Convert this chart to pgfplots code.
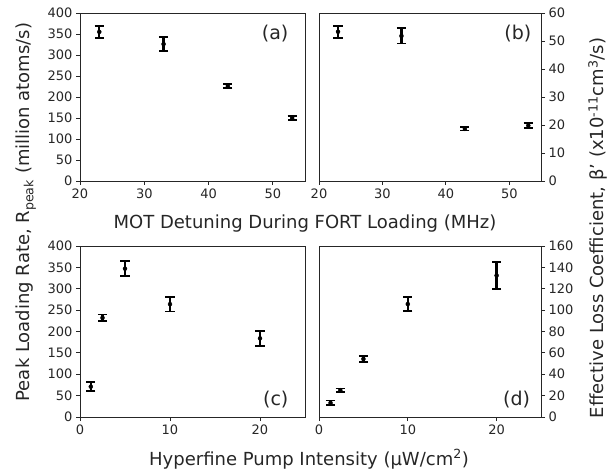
\documentclass[border=0pt]{standalone}
\usepackage{pgfplots}
\pgfplotsset{compat=1.18}
\usepackage{fontspec}
\setmainfont{DejaVu Sans}

\pgfplotsset{
  panel/.style={
    scale only axis,
    anchor=south west,
    axis line style={line width=0.9pt, black!85},
    tick style={line width=0.9pt, black!85},
    major tick length=4pt,
    tick align=outside,
    xtick pos=bottom,
    every tick label/.append style={font=\fontsize{13}{13}\selectfont, black!85},
    /pgf/number format/assume math mode=true,
    clip=false,
  },
  leftpanel/.style={panel, ytick pos=left},
  rightpanel/.style={panel, ytick pos=right, yticklabel pos=right},
  every error bar/.append style={line width=2.4pt},
  datapts/.style={
    only marks, mark=*, mark size=2pt, black,
    mark options={fill=black, draw=black, solid, line width=0.4pt},
    error bars/y dir=both, error bars/y explicit,
    error bars/error bar style={line width=2.4pt, black, solid},
    error bars/error mark options={rotate=90, mark size=4.6pt, line width=1.8pt, black},
  },
}
\tikzset{plabel/.style={font=\fontsize{19}{19}\selectfont, black!85}}

\begin{document}
\begin{tikzpicture}[x=1pt,y=1pt]

% (a)
\begin{axis}[leftpanel, at={(80pt,293pt)}, width=225pt, height=168pt,
  xmin=20, xmax=55, ymin=0, ymax=400,
  xtick={20,30,40,50}, ytick={0,50,...,400}]
\addplot[datapts] coordinates {
  (23,355) +- (0,14)
  (33,326) +- (0,17)
  (43,226) +- (0,5)
  (53,150) +- (0,5)
};
\node[plabel] at (rel axis cs:0.867,0.875) {(a)};
\end{axis}

% (b)
\begin{axis}[rightpanel, at={(319pt,293pt)}, width=222pt, height=168pt,
  xmin=20, xmax=55, ymin=0, ymax=60,
  xtick={20,30,40,50}, ytick={0,10,...,60}]
\addplot[datapts] coordinates {
  (23,53.3) +- (0,2.1)
  (33,51.8) +- (0,2.7)
  (43,18.6) +- (0,0.6)
  (53,19.8) +- (0,0.8)
};
\node[plabel] at (rel axis cs:0.896,0.88) {(b)};
\end{axis}

% (c)
\begin{axis}[leftpanel, at={(80pt,57pt)}, width=225pt, height=171pt,
  xmin=0, xmax=25, ymin=0, ymax=400,
  xtick={0,10,20}, ytick={0,50,...,400}]
\addplot[datapts] coordinates {
  (1.2,71) +- (0,10)
  (2.5,232) +- (0,8)
  (5,347) +- (0,17)
  (10,264) +- (0,17)
  (20,184) +- (0,17)
};
\node[plabel] at (rel axis cs:0.87,0.10) {(c)};
\end{axis}

% (d)
\begin{axis}[rightpanel, at={(319pt,57pt)}, width=222pt, height=171pt,
  xmin=0, xmax=25, ymin=0, ymax=160,
  xtick={0,10,20}, ytick={0,20,...,160}]
\addplot[datapts] coordinates {
  (1.3,13.2) +- (0,2.2)
  (2.4,25.1) +- (0,1.6)
  (5,54.3) +- (0,2.7)
  (10,105.7) +- (0,6.6)
  (20,132.4) +- (0,13)
};
\node[plabel] at (rel axis cs:0.89,0.105) {(d)};
\end{axis}

% axis titles
\node[anchor=base, font=\fontsize{18}{18}\selectfont, black!85] at (305pt,245pt)
  {MOT Detuning During FORT Loading (MHz)};
\node[anchor=base, font=\fontsize{18}{18}\selectfont, black!85] at (309pt,9pt)
  {Hyperfine Pump Intensity (μW/cm\textsuperscript{2})};
\node[rotate=90, font=\fontsize{18}{18}\selectfont, black!85] at (26pt,262pt)
  {Peak Loading Rate, R\textsubscript{peak} (million atoms/s)};
\node[rotate=90, font=\fontsize{18}{18}\selectfont, black!85] at (598pt,246pt)
  {Effective Loss Coefficient, β' (x10\textsuperscript{-11}cm\textsuperscript{3}/s)};

\pgfresetboundingbox
\useasboundingbox (0pt,0pt) rectangle (613pt,474pt);
\end{tikzpicture}
\end{document}
